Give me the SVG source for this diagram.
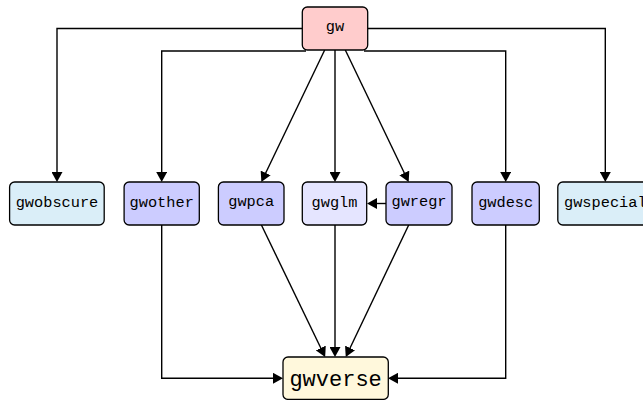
<svg xmlns="http://www.w3.org/2000/svg" width="643" height="400" viewBox="0 0 643 400">
  <style>
    .edge { fill: none; stroke: #000; stroke-width: 1.4; marker-end: url(#arrow); }
    .box { stroke: #000; stroke-width: 1.3; }
    .lbl { font-family: "Liberation Mono", "DejaVu Sans Mono", monospace; font-size: 15.3px; fill: #000; text-anchor: middle; }
    .big { font-size: 22px; }
    .root { fill: #ffcccc; }
    .pkg { fill: #ccccff; }
    .core { fill: #e5e5ff; }
    .ext { fill: #daeef8; }
    .base { fill: #fff8dc; }
  </style>
  <defs>
    <marker id="arrow" markerUnits="userSpaceOnUse" viewBox="0 0 10 11" markerWidth="10" markerHeight="11" refX="8" refY="5.5" orient="auto">
      <path d="M0,0 L10,5.5 L0,11 z" fill="#000"/>
    </marker>
  </defs>

  <g id="connectors">
    <!-- gw fans out to every sub-package -->
    <path class="edge" d="M302,28.5 H57 V180"/>
    <path class="edge" d="M306,51 H161.7 V180"/>
    <path class="edge" d="M368,28.5 H605.3 V180"/>
    <path class="edge" d="M364,51 H505.7 V180"/>
    <path class="edge" d="M324.7,50 L262.2,180.2"/>
    <path class="edge" d="M335,50 V180"/>
    <path class="edge" d="M345.3,50 L407.8,180.2"/>
    <!-- gwregr builds on gwglm -->
    <path class="edge" d="M386,203.5 H369"/>
    <!-- everything ends up in gwverse -->
    <path class="edge" d="M261.4,225 L324.3,355.2"/>
    <path class="edge" d="M335,225 V355"/>
    <path class="edge" d="M408.7,225 L346.6,355.2"/>
    <path class="edge" d="M161.7,225 V378.3 H281"/>
    <path class="edge" d="M505.7,225 V378.3 H390"/>
  </g>

  <g id="gw">
    <rect class="box root" x="302.3" y="7" width="65.4" height="43" rx="5"/>
    <text class="lbl" x="335" y="30.5">gw</text>
  </g>

  <g id="gwobscure">
    <rect class="box ext" x="9.6" y="182" width="94.6" height="43" rx="5"/>
    <text class="lbl" x="57" y="207.3">gwobscure</text>
  </g>

  <g id="gwother">
    <rect class="box pkg" x="124.1" y="182" width="75.2" height="43" rx="5"/>
    <text class="lbl" x="161.7" y="207.3">gwother</text>
  </g>

  <g id="gwpca">
    <rect class="box pkg" x="218.4" y="182" width="65.6" height="43" rx="5"/>
    <text class="lbl" x="251.2" y="205.5">gwpca</text>
  </g>

  <g id="gwglm">
    <rect class="box core" x="302.3" y="182" width="64.4" height="43" rx="5"/>
    <text class="lbl" x="334.5" y="207.3">gwglm</text>
  </g>

  <g id="gwregr">
    <rect class="box pkg" x="386" y="182" width="66" height="43" rx="5"/>
    <text class="lbl" x="419" y="205.5">gwregr</text>
  </g>

  <g id="gwdesc">
    <rect class="box pkg" x="472" y="182" width="67.3" height="43" rx="5"/>
    <text class="lbl" x="505.7" y="207.3">gwdesc</text>
  </g>

  <g id="gwspecial">
    <rect class="box ext" x="557.8" y="182" width="95" height="43" rx="5"/>
    <text class="lbl" x="605.3" y="207.3">gwspecial</text>
  </g>

  <g id="gwverse">
    <rect class="box base" x="283" y="357" width="105.3" height="42.4" rx="5"/>
    <text class="big lbl" x="335.6" y="385.5">gwverse</text>
  </g>
</svg>
